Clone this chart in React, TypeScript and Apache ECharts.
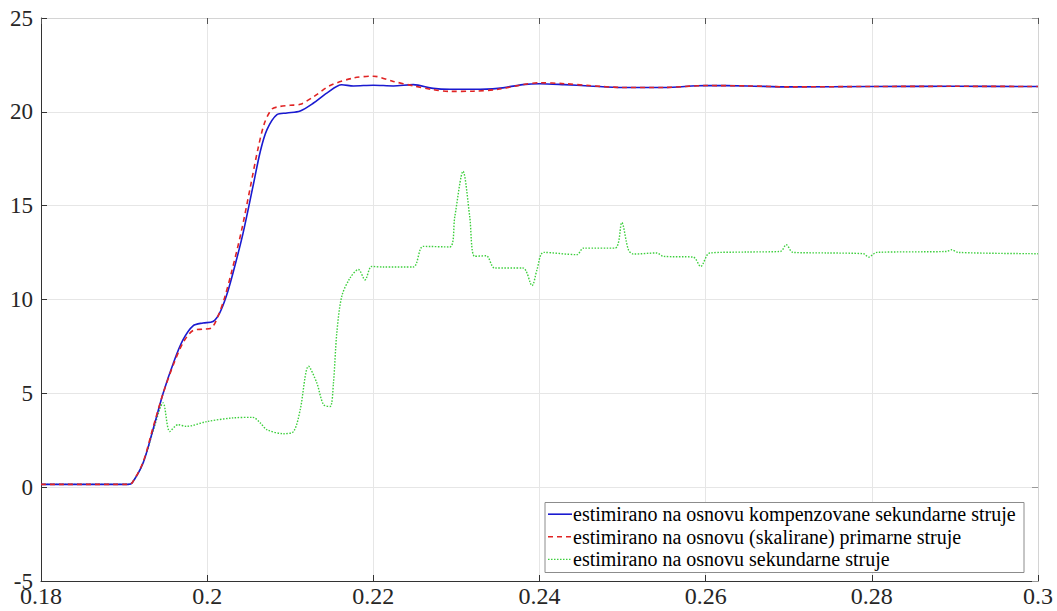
import React, { useEffect, useRef } from "react";
import * as echarts from "echarts";

const seriesNames = [
  "estimirano na osnovu kompenzovane sekundarne struje",
  "estimirano na osnovu (skalirane) primarne struje",
  "estimirano na osnovu sekundarne struje",
];
const seriesColors = ["#1a1ad0", "#e02424", "#3ccf3c"];
const seriesDash: (number[] | null)[] = [null, [5, 4], [1.5, 1.5]];

const blueX = [0.18, 0.1905, 0.191, 0.1923, 0.1935, 0.1947, 0.196, 0.1971, 0.1983, 0.1995, 0.2007, 0.2015, 0.2023, 0.2031, 0.2043, 0.2055, 0.2064, 0.2072, 0.2084, 0.2096, 0.2112, 0.2128, 0.2144, 0.2162, 0.2176, 0.22, 0.2224, 0.2248, 0.2272, 0.2292, 0.232, 0.235, 0.238, 0.24, 0.243, 0.246, 0.25, 0.255, 0.26, 0.265, 0.27, 0.28, 0.29, 0.3];
const blueY = [0.15, 0.15, 0.25, 1.3, 3.1, 5.0, 6.7, 7.86, 8.6, 8.75, 8.83, 9.28, 10.17, 11.4, 13.5, 16.0, 17.9, 19.05, 19.85, 19.94, 20.05, 20.47, 21.0, 21.44, 21.38, 21.42, 21.38, 21.45, 21.25, 21.2, 21.2, 21.25, 21.45, 21.5, 21.45, 21.38, 21.3, 21.3, 21.4, 21.38, 21.33, 21.35, 21.36, 21.35];

const redX = [0.18, 0.1905, 0.191, 0.1923, 0.1935, 0.1947, 0.196, 0.1971, 0.1983, 0.1995, 0.2005, 0.2013, 0.2021, 0.2029, 0.2041, 0.2052, 0.2061, 0.2069, 0.2078, 0.2087, 0.21, 0.2112, 0.2128, 0.2148, 0.2176, 0.22, 0.2224, 0.2248, 0.2272, 0.2292, 0.232, 0.235, 0.238, 0.24, 0.243, 0.246, 0.25, 0.255, 0.26, 0.265, 0.27, 0.28, 0.29, 0.3];
const redY = [0.15, 0.15, 0.25, 1.35, 3.2, 5.0, 6.6, 7.7, 8.35, 8.42, 8.48, 9.1, 10.1, 11.4, 13.6, 16.0, 18.0, 19.4, 20.15, 20.28, 20.35, 20.4, 20.8, 21.4, 21.8, 21.9, 21.62, 21.39, 21.18, 21.09, 21.1, 21.2, 21.45, 21.55, 21.5, 21.4, 21.3, 21.3, 21.4, 21.38, 21.33, 21.35, 21.36, 21.35];

const greenX = [0.18, 0.1905, 0.191, 0.1923, 0.1935, 0.1947, 0.1955, 0.1965, 0.1975, 0.2, 0.2031, 0.2055, 0.2064, 0.2072, 0.2092, 0.2104, 0.2112, 0.2122, 0.2132, 0.214, 0.2148, 0.2152, 0.2156, 0.2162, 0.2172, 0.2182, 0.219, 0.2198, 0.2212, 0.2248, 0.226, 0.2292, 0.2298, 0.2308, 0.2316, 0.2322, 0.2336, 0.2346, 0.238, 0.2391, 0.2397, 0.2405, 0.2445, 0.2453, 0.2491, 0.2499, 0.2507, 0.2513, 0.2541, 0.2549, 0.2585, 0.2594, 0.2605, 0.265, 0.269, 0.2697, 0.2705, 0.2746, 0.279, 0.2796, 0.2806, 0.289, 0.2896, 0.2904, 0.3];
const greenY = [0.15, 0.15, 0.25, 1.3, 3.0, 4.49, 2.97, 3.33, 3.24, 3.5, 3.69, 3.72, 3.42, 3.06, 2.85, 2.97, 4.13, 6.44, 5.55, 4.4, 4.3, 5.55, 8.2, 10.17, 11.15, 11.6, 11.05, 11.76, 11.73, 11.73, 12.83, 12.8, 14.4, 16.83, 14.43, 12.3, 12.33, 11.68, 11.68, 10.74, 11.59, 12.51, 12.39, 12.74, 12.74, 14.1, 12.65, 12.42, 12.48, 12.3, 12.26, 11.76, 12.48, 12.53, 12.56, 12.92, 12.51, 12.48, 12.44, 12.26, 12.51, 12.56, 12.65, 12.51, 12.44];

const xTicks = [0.18, 0.2, 0.22, 0.24, 0.26, 0.28, 0.3];
const yTicks = [-5, 0, 5, 10, 15, 20, 25];

const zip = (xs: number[], ys: number[]) => xs.map((x, i) => [x, ys[i]]);

const FONT = "Liberation Serif";

export default function App() {
  const ref = useRef<HTMLDivElement>(null);
  useEffect(() => {
    if (!ref.current) return;
    const chart = echarts.init(ref.current, null, { renderer: "svg" });
    const xData = [blueX, redX, greenX];
    const yData = [blueY, redY, greenY];
    chart.setOption({
      animation: false,
      backgroundColor: "#ffffff",
      grid: { left: 41, right: 19, top: 18, bottom: 30 },
      xAxis: [
        {
          type: "value",
          min: 0.18,
          max: 0.3,
          interval: 0.02,
          position: "bottom",
          axisLine: { show: true, onZero: false, lineStyle: { color: "#333", width: 1 } },
          axisTick: { show: true, inside: true, length: 6, lineStyle: { color: "#333" } },
          axisLabel: { show: false },
          splitLine: { show: true, lineStyle: { color: "#e6e6e6", width: 1 } },
        },
        {
          type: "value",
          min: 0.18,
          max: 0.3,
          interval: 0.02,
          position: "top",
          axisLine: { show: true, onZero: false, lineStyle: { color: "#d4d4d4", width: 1 } },
          axisTick: { show: true, inside: true, length: 6, lineStyle: { color: "#555" } },
          axisLabel: { show: false },
          splitLine: { show: false },
        },
      ],
      yAxis: [
        {
          type: "value",
          min: -5,
          max: 25,
          interval: 5,
          position: "left",
          axisLine: { show: true, onZero: false, lineStyle: { color: "#333", width: 1 } },
          axisTick: { show: true, inside: true, length: 6, lineStyle: { color: "#333" } },
          axisLabel: { show: false },
          splitLine: { show: true, lineStyle: { color: "#e6e6e6", width: 1 } },
        },
        {
          type: "value",
          min: -5,
          max: 25,
          interval: 5,
          position: "right",
          axisLine: { show: true, onZero: false, lineStyle: { color: "#d4d4d4", width: 1 } },
          axisTick: { show: true, inside: true, length: 6, lineStyle: { color: "#999" } },
          axisLabel: { show: false },
          splitLine: { show: false },
        },
      ],
      series: seriesNames.map((name, i) => ({
        name,
        type: "line",
        data: zip(xData[i], yData[i]),
        showSymbol: false,
        symbol: "none",
        smooth: 0.3,
        z: [3, 4, 2][i],
        lineStyle: { color: seriesColors[i], width: i === 2 ? 1.4 : 1.6, type: seriesDash[i] || "solid" },
        itemStyle: { color: seriesColors[i] },
      })),
    });

    // Tick labels placed through the axes' own scales
    const px = (v: number) => chart.convertToPixel({ xAxisIndex: 0 }, v) as number;
    const py = (v: number) => chart.convertToPixel({ yAxisIndex: 0 }, v) as number;
    const axisLeft = px(0.18);
    const axisBottom = py(-5);
    const graphics: any[] = [];
    xTicks.forEach((t) => {
      graphics.push({
        type: "text",
        x: px(t),
        y: axisBottom + 3,
        z: 100,
        silent: true,
        style: {
          text: String(t),
          fontFamily: FONT,
          fontSize: 24,
          fill: "#262626",
          align: "center",
          verticalAlign: "top",
          textAlign: "center",
          textVerticalAlign: "top",
        },
      });
    });
    yTicks.forEach((t) => {
      graphics.push({
        type: "text",
        x: axisLeft - 8,
        y: py(t),
        z: 100,
        silent: true,
        style: {
          text: String(t),
          fontFamily: FONT,
          fontSize: 23,
          fill: "#262626",
          align: "right",
          verticalAlign: "middle",
          textAlign: "right",
          textVerticalAlign: "middle",
        },
      });
    });

    // Legend box
    const lgX = 545;
    const lgY = 502.5;
    const lgW = 479;
    const lgH = 70;
    graphics.push({
      type: "rect",
      z: 100,
      silent: true,
      shape: { x: lgX, y: lgY, width: lgW, height: lgH },
      style: { fill: "#ffffff", stroke: "#8c8c8c", lineWidth: 1 },
    });
    seriesNames.forEach((name, i) => {
      const cy = lgY + 11.7 + i * 22.6;
      graphics.push({
        type: "line",
        z: 101,
        silent: true,
        shape: { x1: lgX + 3, y1: cy, x2: lgX + 27, y2: cy },
        style: {
          stroke: seriesColors[i],
          lineWidth: i === 2 ? 1.4 : 1.6,
          lineDash: seriesDash[i] || undefined,
        },
      });
      graphics.push({
        type: "text",
        x: lgX + 28,
        y: cy,
        z: 101,
        silent: true,
        style: {
          text: name,
          fontFamily: FONT,
          fontSize: 20,
          fill: "#000000",
          align: "left",
          verticalAlign: "middle",
          textAlign: "left",
          textVerticalAlign: "middle",
        },
      });
    });
    chart.setOption({ graphic: graphics });

    return () => chart.dispose();
  }, []);
  return (
    <div
      ref={ref}
      style={{ position: "absolute", left: 0, top: 0, width: 1057, height: 611 }}
    />
  );
}
